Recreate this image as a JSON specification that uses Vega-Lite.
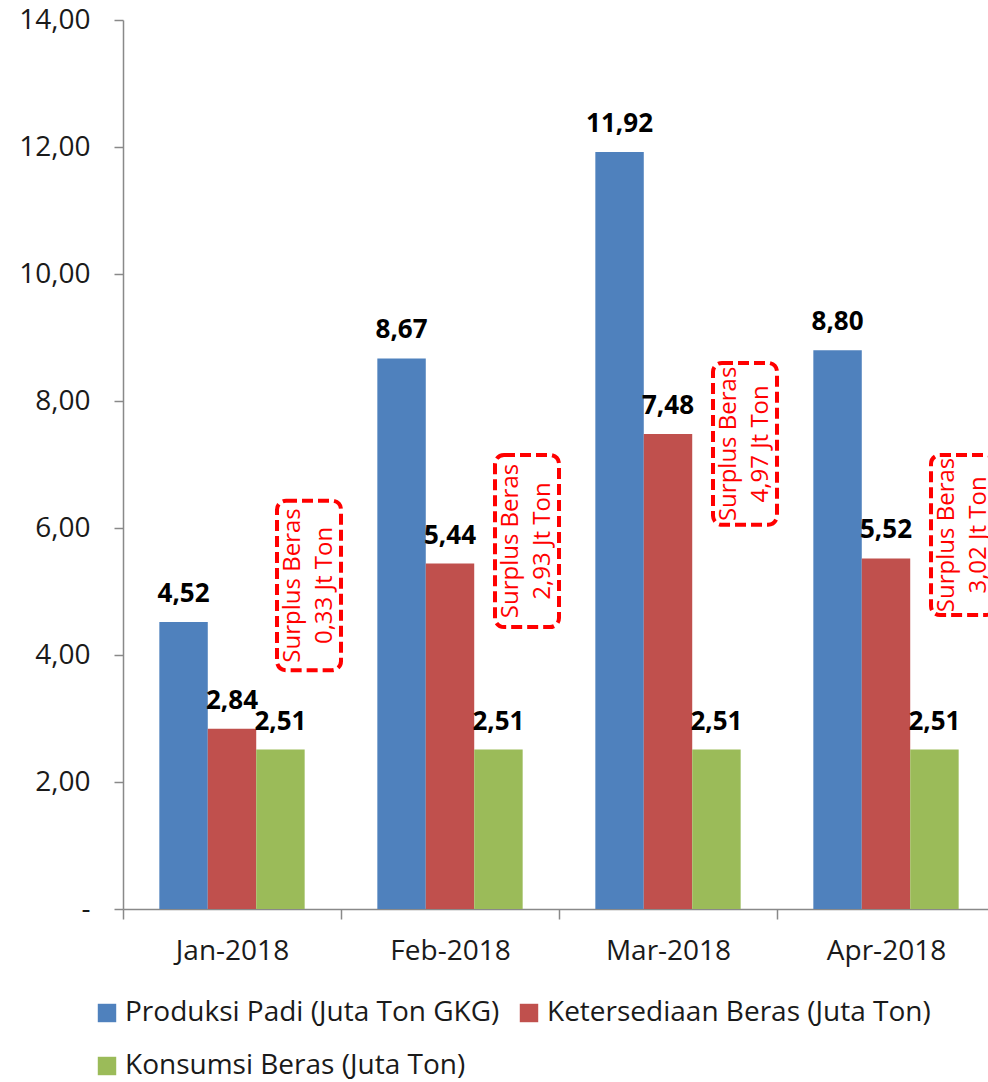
{
  "$schema": "https://vega.github.io/schema/vega-lite/v6.json",
  "width": 865,
  "height": 889,
  "autosize": {"type": "none"},
  "padding": {"left": 123, "top": 20, "right": 0, "bottom": 173},
  "config": {
    "locale": {"number": {"decimal": ",", "thousands": ".", "grouping": [3], "currency": ["", ""]}},
    "view": {"stroke": null},
    "font": "Open Sans"
  },
  "datasets": {
    "bars": [
      {"month": "Jan-2018", "series": "Produksi Padi (Juta Ton GKG)", "value": 4.52},
      {"month": "Jan-2018", "series": "Ketersediaan Beras (Juta Ton)", "value": 2.84},
      {"month": "Jan-2018", "series": "Konsumsi Beras (Juta Ton)", "value": 2.51},
      {"month": "Feb-2018", "series": "Produksi Padi (Juta Ton GKG)", "value": 8.67},
      {"month": "Feb-2018", "series": "Ketersediaan Beras (Juta Ton)", "value": 5.44},
      {"month": "Feb-2018", "series": "Konsumsi Beras (Juta Ton)", "value": 2.51},
      {"month": "Mar-2018", "series": "Produksi Padi (Juta Ton GKG)", "value": 11.92},
      {"month": "Mar-2018", "series": "Ketersediaan Beras (Juta Ton)", "value": 7.48},
      {"month": "Mar-2018", "series": "Konsumsi Beras (Juta Ton)", "value": 2.51},
      {"month": "Apr-2018", "series": "Produksi Padi (Juta Ton GKG)", "value": 8.80},
      {"month": "Apr-2018", "series": "Ketersediaan Beras (Juta Ton)", "value": 5.52},
      {"month": "Apr-2018", "series": "Konsumsi Beras (Juta Ton)", "value": 2.51}
    ],
    "notes": [
      {"month": "Jan-2018", "lo": 3.76, "hi": 6.43, "mid": 5.095, "note": "Surplus Beras\n0,33 Jt Ton"},
      {"month": "Feb-2018", "lo": 4.44, "hi": 7.15, "mid": 5.795, "note": "Surplus Beras\n2,93 Jt Ton"},
      {"month": "Mar-2018", "lo": 6.05, "hi": 8.6, "mid": 7.325, "note": "Surplus Beras\n4,97 Jt Ton"},
      {"month": "Apr-2018", "lo": 4.63, "hi": 7.15, "mid": 5.89, "note": "Surplus Beras\n3,02 Jt Ton"}
    ]
  },
  "layer": [
    {
      "data": {"name": "bars"},
      "mark": {"type": "bar"},
      "encoding": {
        "x": {
          "field": "month", "type": "nominal",
          "sort": ["Jan-2018", "Feb-2018", "Mar-2018", "Apr-2018"],
          "scale": {"range": [0, 872], "paddingInner": 0, "paddingOuter": 0},
          "axis": {
            "title": null, "labelAngle": 0, "tickBand": "extent",
            "domainColor": "#898989", "tickColor": "#898989", "domainWidth": 1.5, "tickWidth": 1.5,
            "tickSize": 10, "labelFontSize": 28, "labelColor": "#1a1a1a", "labelPadding": 18, "labelFont": "Open Sans"
          }
        },
        "xOffset": {
          "field": "series", "type": "nominal",
          "sort": ["Produksi Padi (Juta Ton GKG)", "Ketersediaan Beras (Juta Ton)", "Konsumsi Beras (Juta Ton)"],
          "scale": {"paddingInner": 0, "paddingOuter": 0.75}
        },
        "y": {
          "field": "value", "type": "quantitative",
          "scale": {"domain": [0, 14]},
          "axis": {
            "title": null, "values": [0, 2, 4, 6, 8, 10, 12, 14], "format": ".2f",
            "labelExpr": "datum.value == 0 ? '-\u00a0\u00a0' : datum.label",
            "grid": false, "domainColor": "#898989", "tickColor": "#898989", "domainWidth": 1.5, "tickWidth": 1.5,
            "tickSize": 9, "labelPadding": 24, "labelFontSize": 28, "labelColor": "#1a1a1a", "labelFont": "Open Sans"
          }
        },
        "color": {
          "field": "series", "type": "nominal",
          "sort": ["Produksi Padi (Juta Ton GKG)", "Ketersediaan Beras (Juta Ton)", "Konsumsi Beras (Juta Ton)"],
          "scale": {
            "domain": ["Produksi Padi (Juta Ton GKG)", "Ketersediaan Beras (Juta Ton)", "Konsumsi Beras (Juta Ton)"],
            "range": ["#4F81BD", "#C0504D", "#9BBB59"]
          },
          "legend": {
            "title": null, "orient": "none", "legendX": -30, "legendY": 979, "direction": "horizontal",
            "columns": 2, "columnPadding": 15, "rowPadding": 25,
            "symbolType": "square", "symbolSize": 340, "symbolStrokeWidth": 0,
            "labelFontSize": 28, "labelColor": "#1a1a1a", "labelFont": "Open Sans", "labelOffset": 4, "labelLimit": 600
          }
        }
      }
    },
    {
      "data": {"name": "bars"},
      "mark": {"type": "text", "dy": -20, "baseline": "alphabetic", "fontWeight": "bold", "fontSize": 26, "color": "#000000", "font": "Open Sans"},
      "encoding": {
        "x": {"field": "month", "type": "nominal", "sort": ["Jan-2018", "Feb-2018", "Mar-2018", "Apr-2018"]},
        "xOffset": {"field": "series", "type": "nominal", "sort": ["Produksi Padi (Juta Ton GKG)", "Ketersediaan Beras (Juta Ton)", "Konsumsi Beras (Juta Ton)"]},
        "y": {"field": "value", "type": "quantitative"},
        "text": {"field": "value", "type": "quantitative", "format": ".2f"}
      }
    },
    {
      "data": {"name": "notes"},
      "mark": {"type": "bar", "width": 64, "xOffset": 77, "fill": null, "fillOpacity": 0, "stroke": "#FF0000", "strokeWidth": 4, "strokeDash": [11, 5], "cornerRadius": 9},
      "encoding": {
        "x": {"field": "month", "type": "nominal", "sort": ["Jan-2018", "Feb-2018", "Mar-2018", "Apr-2018"]},
        "y": {"field": "lo", "type": "quantitative"},
        "y2": {"field": "hi"}
      }
    },
    {
      "data": {"name": "notes"},
      "mark": {"type": "text", "angle": 270, "xOffset": 61, "lineBreak": "\n", "lineHeight": 32, "align": "center", "baseline": "middle", "fontSize": 24, "color": "#FF0000", "font": "Open Sans"},
      "encoding": {
        "x": {"field": "month", "type": "nominal", "sort": ["Jan-2018", "Feb-2018", "Mar-2018", "Apr-2018"]},
        "y": {"field": "mid", "type": "quantitative"},
        "text": {"field": "note", "type": "nominal"}
      }
    }
  ]
}
